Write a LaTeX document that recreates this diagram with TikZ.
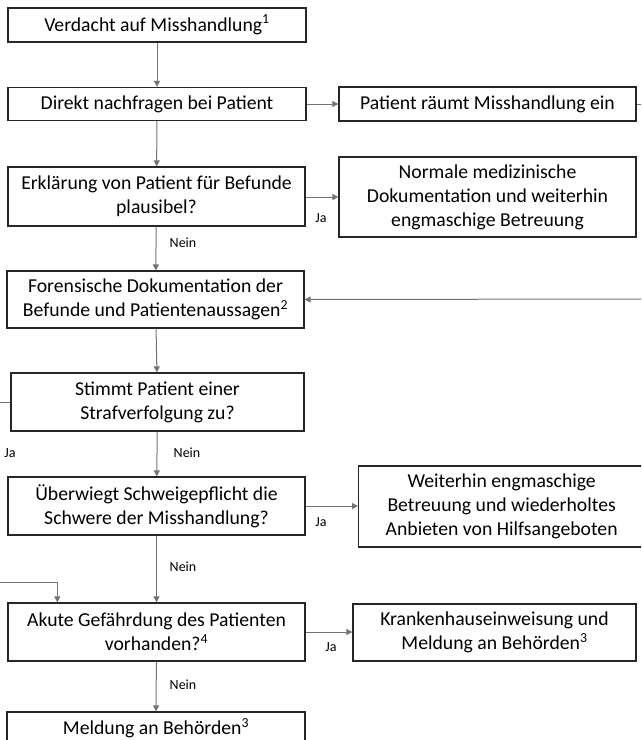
\documentclass[tikz,border=0pt]{standalone}
\usepackage{fontspec}
\setmainfont{Carlito}
\usetikzlibrary{arrows.meta, calc}

\newcommand{\boxfont}{\fontsize{19.7}{24}\selectfont}
\newcommand{\labfont}{\fontsize{14}{16}\selectfont}

\tikzset{
  stepbox/.style={draw=black!85, line width=1.3pt, fill=white, align=center,
    inner sep=0pt, font=\boxfont},
  flow/.style={draw=black!55, line width=1pt, -{Triangle[length=6pt, width=6pt]}},
  flowline/.style={draw=black!55, line width=1pt},
  answer/.style={font=\labfont, inner sep=0pt}
}

\begin{document}
\begin{tikzpicture}[x=1pt, y=-1pt]
	\path[use as bounding box] (0,0) rectangle (641,740);
	\clip (0,0) rectangle (641,740);

	% main column
	\node[stepbox, minimum width=298pt, minimum height=34pt] (verdacht) at (157,25) {Verdacht auf Misshandlung\textsuperscript{1}};
	\node[stepbox, minimum width=298pt, minimum height=33pt] (nachfragen) at (157,104) {Direkt nachfragen bei Patient};
	\node[stepbox, minimum width=297pt, minimum height=59pt] (erklaerung) at (156.5,196.5) {Erklärung von Patient für Befunde\\plausibel?};
	\node[stepbox, minimum width=297pt, minimum height=57pt] (forensik) at (155.5,299.5) {Forensische Dokumentation der\\Befunde und Patientenaussagen\textsuperscript{2}};
	\node[stepbox, minimum width=293pt, minimum height=58pt] (strafverf) at (157.5,402) {Stimmt Patient einer\\Strafverfolgung zu?};
	\node[stepbox, minimum width=297pt, minimum height=58pt] (schweige) at (156.5,506) {Überwiegt Schweigepflicht die\\Schwere der Misshandlung?};
	\node[stepbox, minimum width=297pt, minimum height=58pt] (akut) at (156.5,632) {Akute Gefährdung des Patienten\\vorhanden?\textsuperscript{4}};
	\node[stepbox, minimum width=298pt, minimum height=32pt] (meldung) at (156,728) {Meldung an Behörden\textsuperscript{3}};

	% right column
	\node[stepbox, minimum width=297pt, minimum height=34pt] (einraeumen) at (487.5,104) {Patient räumt Misshandlung ein};
	\node[stepbox, minimum width=297pt, minimum height=80pt] (normal) at (487.5,197) {Normale medizinische\\Dokumentation und weiterhin\\engmaschige Betreuung};
	\node[stepbox, minimum width=286pt, minimum height=81pt, anchor=west] (betreuung) at (358,506.5) {Weiterhin engmaschige\\Betreuung und wiederholtes\\Anbieten von Hilfsangeboten};
	\node[stepbox, minimum width=283pt, minimum height=57pt] (klinik) at (494.5,632.5) {Krankenhauseinweisung und\\Meldung an Behörden\textsuperscript{3}};

	% loose ends
	\coordinate (outR) at (641,104);
	\coordinate (inR) at (641,299);
	\coordinate (outL) at (0,402);
	\coordinate (inL) at (0,582);

	% connectors
	\draw[flow] (verdacht) -- (nachfragen);
	\draw[flow] (nachfragen) -- (einraeumen);
	\draw[flowline] (einraeumen) -- (outR);
	\draw[flow] (nachfragen) -- (erklaerung);
	\draw[flow] (erklaerung.east |- 0,197) -- (normal.west |- 0,197);
	\draw[flow] (erklaerung) -- (forensik);
	\draw[flow] (inR) -- (forensik.east);
	\draw[flow] (forensik) -- (strafverf);
	\draw[flowline] (strafverf) -- (outL);
	\draw[flow] (strafverf) -- (schweige);
	\draw[flow] (schweige) -- (betreuung.west |- schweige);
	\draw[flow] (schweige) -- (akut);
	\draw[flow] (inL) -| ($ (akut.north west)+(50,0) $);
	\draw[flow] (akut) -- (klinik.west |- akut);
	\draw[flow] (akut) -- (meldung);

	% answers
	\node[answer] (ja1) at (321,218) {Ja};
	\node[answer] (nein1) at (183,243) {Nein};
	\node[answer] (ja2) at (10,453) {Ja};
	\node[answer] (nein2) at (187,453) {Nein};
	\node[answer] (ja3) at (321,522) {Ja};
	\node[answer] (nein3) at (183,567) {Nein};
	\node[answer] (ja4) at (331,647) {Ja};
	\node[answer] (nein4) at (183,685) {Nein};
\end{tikzpicture}
\end{document}
